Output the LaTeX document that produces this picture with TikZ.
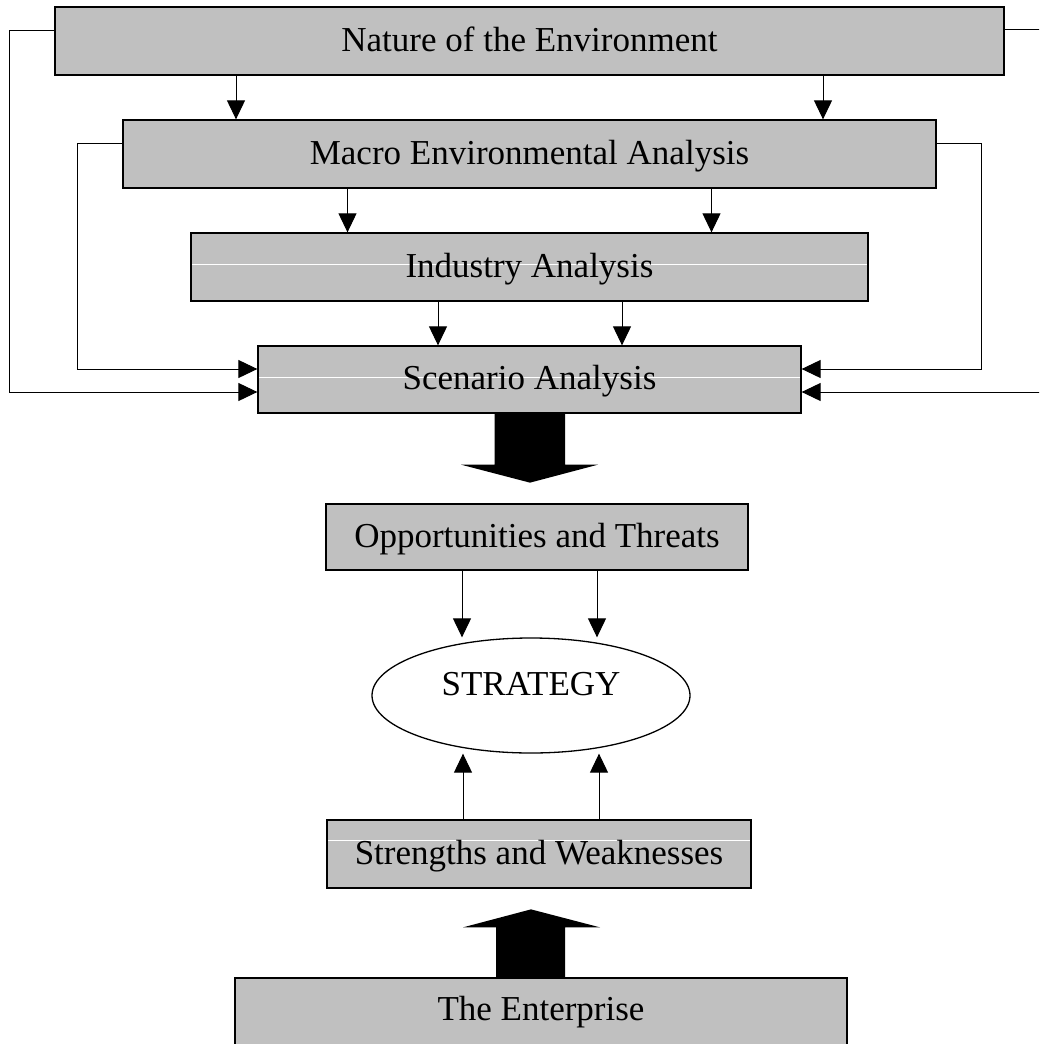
\documentclass[tikz,border=0pt]{standalone}
\usepackage{fontspec}
\setmainfont{Liberation Serif}
\usetikzlibrary{arrows.meta,calc,shapes.geometric}
\definecolor{boxgray}{HTML}{C0C0C0}

\begin{document}
\begin{tikzpicture}[x=1pt,y=-1pt,
  box/.style={draw=black, line width=1.3pt, fill=boxgray, inner sep=0pt,
    font=\fontsize{35}{42}\selectfont, text height=20pt, text depth=0pt,
    minimum height=68pt},
  seam/.style={path picture={\draw[white,line width=0.8pt]
    ([yshift=#1]path picture bounding box.west) --
    ([yshift=#1]path picture bounding box.east);}},
  conn/.style={line width=1pt, -{Triangle[length=19pt,width=18pt]}},
  bigarrow/.style={fill=black, draw=none}
]
\clip (0,0) rectangle (1039,1044);

% environment analysis levels
\node[box, minimum width=949pt] (nat) at (529.5,41) {Nature of the Environment};
\node[box, minimum width=813pt] (mac) at (529.5,154) {Macro Environmental Analysis};
\node[box, seam=3pt, minimum width=677pt] (ind) at (529.5,267) {Industry Analysis};
\node[box, seam=2.5pt, minimum width=543pt, minimum height=67pt] (scn) at (529.5,379.5) {Scenario Analysis};

% outcome and strategy
\node[box, minimum width=422pt, minimum height=66pt] (opp) at (537,537) {Opportunities and Threats};
\node[ellipse, draw=black, line width=1.3pt, fill=white, inner sep=0pt,
  minimum width=318pt, minimum height=115pt,
  font=\fontsize{35}{42}\selectfont, text height=20pt, text depth=20pt] (strat) at (531,695.5) {STRATEGY};
\node[box, seam=14pt, minimum width=424pt] (sw) at (539,854) {Strengths and Weaknesses};
\node[box, minimum width=612pt, text height=42pt, text depth=42pt] (ent) at (541,1020) {The Enterprise};

% downward flow between levels
\draw[conn] ($(nat.south)+(-293.5,0)$) -- ($(mac.north)+(-293.5,0)$);
\draw[conn] ($(nat.south)+(293.5,0)$) -- ($(mac.north)+(293.5,0)$);
\draw[conn] ($(mac.south)+(-182,0)$) -- ($(ind.north)+(-182,0)$);
\draw[conn] ($(mac.south)+(182,0)$) -- ($(ind.north)+(182,0)$);
\draw[conn] ($(ind.south)+(-91.5,0)$) -- ($(scn.north)+(-91.5,0)$);
\draw[conn] ($(ind.south)+(92.5,0)$) -- ($(scn.north)+(92.5,0)$);

% side feedback into scenario analysis
\draw[conn] ([yshift=11pt]nat.west) -| ($(scn.west)+(-248,12.5)$) -- ($(scn.west)+(0,12.5)$);
\draw[conn] ([yshift=12pt]nat.east) -| ($(scn.east)+(260,12.5)$) -- ($(scn.east)+(0,12.5)$);
\draw[conn] ([yshift=11pt]mac.west) -| ($(scn.west)+(-180,-10.5)$) -- ($(scn.west)+(0,-10.5)$);
\draw[conn] ([yshift=11pt]mac.east) -| ($(scn.east)+(180,-10.5)$) -- ($(scn.east)+(0,-10.5)$);

% block arrow: scenario -> opportunities
\fill[bigarrow] ($(scn.south)+(-35,0)$) -- ($(scn.south)+(35.5,0)$) -- ($(scn.south)+(35.5,51)$)
  -- ($(scn.south)+(68.5,51)$) -- ($(scn.south)+(0.5,69)$) -- ($(scn.south)+(-68.5,51)$)
  -- ($(scn.south)+(-35,51)$) -- cycle;

% opportunities/threats and strengths/weaknesses into strategy
\coordinate (oppL) at ($(opp.south)+(-75,0)$);
\coordinate (oppR) at ($(opp.south)+(60,0)$);
\coordinate (swL) at ($(sw.north)+(-76,0)$);
\coordinate (swR) at ($(sw.north)+(60,0)$);
\draw[conn] (oppL) -- (oppL |- strat.north);
\draw[conn] (oppR) -- (oppR |- strat.north);
\draw[conn] (swL) -- (swL |- strat.south);
\draw[conn] (swR) -- (swR |- strat.south);

% block arrow: enterprise -> strengths
\fill[bigarrow] ($(ent.north)+(-45,0)$) -- ($(ent.north)+(24,0)$) -- ($(ent.north)+(24,-50)$)
  -- ($(ent.north)+(59,-50)$) -- ($(ent.north)+(-10,-68)$) -- ($(ent.north)+(-78,-50)$)
  -- ($(ent.north)+(-45,-50)$) -- cycle;
\end{tikzpicture}
\end{document}
